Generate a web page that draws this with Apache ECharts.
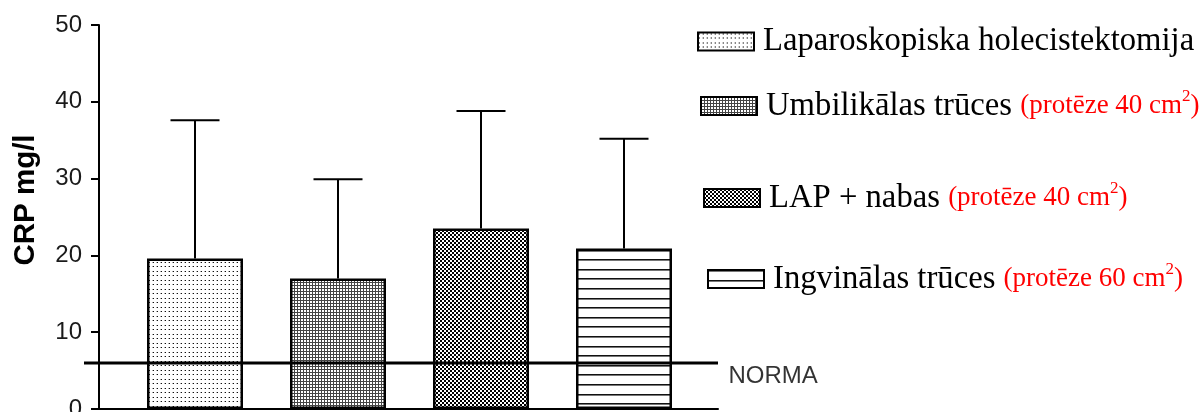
<!DOCTYPE html>
<html>
<head>
<meta charset="utf-8">
<title>CRP mg/l</title>
<script src="https://cdn.jsdelivr.net/npm/echarts@6/dist/echarts.min.js"></script>
<style>
  html, body { margin: 0; padding: 0; background: #fff; }
  #chart { width: 1202px; height: 412px; }
</style>
</head>
<body>
<div id="chart"></div>
<script>
// Groups shown as bars, with mean CRP and the upper error (SD)
const groups = [
  'Laparoskopiska holecistektomija',
  'Umbilikālas trūces',
  'LAP + nabas',
  'Ingvinālas trūces'
];
const meshNotes = ['', '(protēze 40 cm', '(protēze 40 cm', '(protēze 60 cm'];
const crpMean = [19.6, 17.0, 23.5, 20.9];
const crpSd = [18.0, 12.9, 15.3, 14.3];
const normaValue = 6;
const normaText = 'NORMA';
const yTicks = { min: 0, max: 50, interval: 10 };

// Fill patterns for the bars
function tile(w, h, draw) {
  const c = document.createElement('canvas');
  c.width = w; c.height = h;
  const ctx = c.getContext('2d');
  ctx.fillStyle = '#fff';
  ctx.fillRect(0, 0, w, h);
  draw(ctx);
  return { image: c, repeat: 'repeat' };
}
const dotted = tile(8, 9, ctx => {
  ctx.fillStyle = '#aaa';
  [[0, 1], [4, 1], [0, 5], [4, 5]].forEach(p => ctx.fillRect(p[0], p[1], 1, 1));
  ctx.fillStyle = '#111';
  [[1, 1], [5, 1], [1, 5], [5, 5]].forEach(p => ctx.fillRect(p[0], p[1], 1, 1));
});
const mesh = tile(3, 3, ctx => {
  ctx.fillStyle = '#444';
  ctx.fillRect(0, 0, 3, 1);
  ctx.fillRect(0, 0, 1, 3);
});
const checker = tile(4, 4, ctx => {
  ctx.fillStyle = '#000';
  ctx.fillRect(0, 0, 2, 2);
  ctx.fillRect(2, 2, 2, 2);
});
const stripes = tile(4, 48, ctx => {
  [0, 10, 19, 29, 38].forEach(y => {
    ctx.fillStyle = '#111';
    ctx.fillRect(0, y, 4, 1);
    ctx.fillStyle = '#777';
    ctx.fillRect(0, y + 1, 4, 1);
  });
});
const fills = [dotted, mesh, checker, stripes];

const chart = echarts.init(document.getElementById('chart'), null, { renderer: 'canvas' });

const sans = 'Liberation Sans, Arial, sans-serif';
const serif = 'Liberation Serif, Times New Roman, serif';

const barSeries = groups.map((name, i) => ({
  name,
  type: 'bar',
  xAxisIndex: 0,
  yAxisIndex: 0,
  barWidth: 96,
  barGap: '-100%',
  data: groups.map((g, j) => (j === i ? crpMean[j] : '-')),
  itemStyle: { color: fills[i], borderColor: '#000', borderWidth: 2.5 },
  silent: true,
  z: 3
}));

const legendRich = {
  b: { fontFamily: serif, fontSize: 32.7, color: '#000', lineHeight: 36 },
  r: { fontFamily: serif, fontSize: 27, color: '#ff0000', lineHeight: 36 },
  s: { fontFamily: serif, fontSize: 17, color: '#ff0000', lineHeight: 20, verticalAlign: 'top' }
};
const legendPos = [
  { left: 697, top: 25 },
  { left: 700, top: 88 },
  { left: 703, top: 180 },
  { left: 707, top: 261 }
];
const legends = groups.map((name, i) => ({
  data: [name],
  left: legendPos[i].left,
  top: legendPos[i].top,
  orient: 'horizontal',
  padding: 0,
  icon: 'rect',
  itemWidth: 56,
  itemHeight: 18,
  selectedMode: false,
  itemStyle: { borderColor: '#000', borderWidth: 2 },
  textStyle: { rich: legendRich, padding: [0, 0, 0, 4] },
  formatter: n => {
    const k = groups.indexOf(n);
    return meshNotes[k]
      ? '{b|' + n + ' }{r|' + meshNotes[k] + '}{s|2}{r|)}'
      : '{b|' + n + '}';
  }
}));

const noBounds = { outerBoundsMode: 'none', containLabel: false };

chart.setOption({
  backgroundColor: '#fff',
  animation: false,
  grid: [
    Object.assign({ left: 123.5, width: 572, top: 25, bottom: 3 }, noBounds),
    Object.assign({ left: 99, width: 619, top: 25, bottom: 3 }, noBounds),
    Object.assign({ left: 84, width: 634, top: 25, bottom: 3 }, noBounds)
  ],
  xAxis: [
    { type: 'category', gridIndex: 0, data: groups, show: false },
    {
      type: 'value', gridIndex: 1, min: 0, max: 1,
      axisLine: { show: true, lineStyle: { color: '#000', width: 2 } },
      axisTick: { show: false }, axisLabel: { show: false }, splitLine: { show: false }
    },
    { type: 'value', gridIndex: 2, min: 0, max: 1, show: false }
  ],
  yAxis: [
    { type: 'value', gridIndex: 0, min: yTicks.min, max: yTicks.max, show: false },
    {
      type: 'value', gridIndex: 1, min: yTicks.min, max: yTicks.max, interval: yTicks.interval,
      name: 'CRP mg/l',
      nameLocation: 'middle',
      nameRotate: 90,
      nameGap: 58,
      nameTextStyle: { fontFamily: sans, fontSize: 29.5, fontWeight: 'bold', color: '#000', padding: [0, 0, 0, 34] },
      axisLine: { show: true, lineStyle: { color: '#000', width: 2 } },
      axisTick: { show: true, length: 8, lineStyle: { color: '#000', width: 2 } },
      axisLabel: { fontFamily: sans, fontSize: 24, color: '#1a1a1a', margin: 17 },
      splitLine: { show: false }
    },
    { type: 'value', gridIndex: 2, min: yTicks.min, max: yTicks.max, show: false }
  ],
  legend: legends,
  series: [
    {
      name: 'errors',
      type: 'custom',
      xAxisIndex: 0,
      yAxisIndex: 0,
      silent: true,
      z: 2,
      data: groups.map((g, i) => [i, crpMean[i], crpMean[i] + crpSd[i]]),
      renderItem: (params, api) => {
        const base = api.coord([api.value(0), api.value(1)]);
        const top = api.coord([api.value(0), api.value(2)]);
        const half = 24.5;
        return {
          type: 'group',
          children: [
            { type: 'line', shape: { x1: base[0], y1: base[1], x2: top[0], y2: top[1] }, style: { stroke: '#000', lineWidth: 2 } },
            { type: 'line', shape: { x1: top[0] - half, y1: top[1], x2: top[0] + half, y2: top[1] }, style: { stroke: '#000', lineWidth: 2 } }
          ]
        };
      }
    },
    ...barSeries,
    {
      name: 'NORMA',
      type: 'line',
      xAxisIndex: 2,
      yAxisIndex: 2,
      silent: true,
      symbol: 'none',
      z: 5,
      lineStyle: { color: '#000', width: 3 },
      data: [[0, normaValue], [1, normaValue]]
    },
    {
      name: 'NORMA label',
      type: 'scatter',
      xAxisIndex: 2,
      yAxisIndex: 2,
      silent: true,
      symbolSize: 1,
      itemStyle: { color: 'rgba(0,0,0,0)' },
      z: 6,
      data: [[1, normaValue]],
      label: {
        show: true, formatter: normaText, position: 'right', distance: 10, offset: [0, 13],
        fontFamily: sans, fontSize: 24, color: '#000', textBorderWidth: 0
      }
    }
  ]
});
</script>
</body>
</html>
